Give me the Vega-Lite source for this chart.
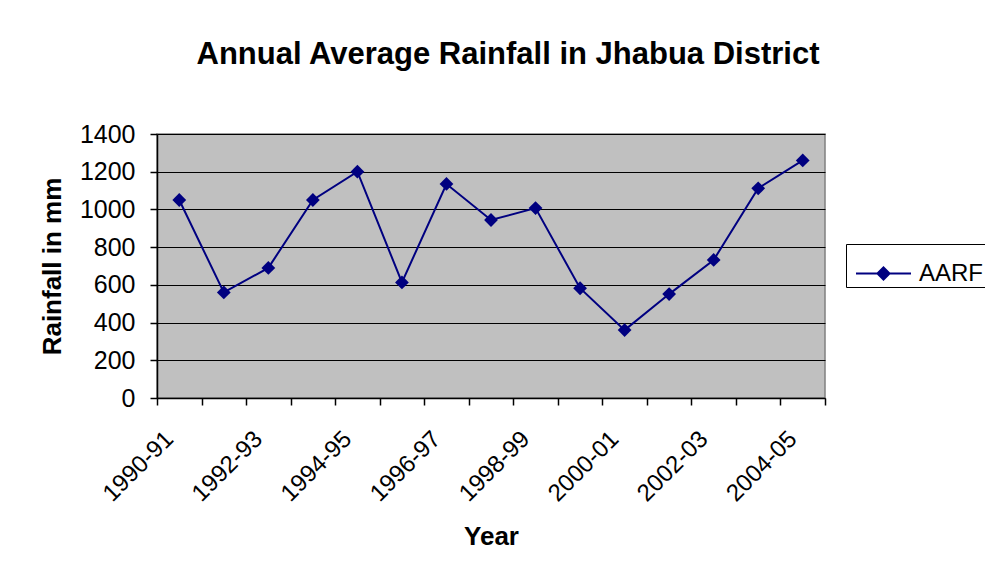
{
  "$schema": "https://vega.github.io/schema/vega-lite/v6.json",
  "autosize": {"type": "none"},
  "padding": {"left": 157, "top": 134, "right": 160, "bottom": 178},
  "width": 668,
  "height": 264,
  "background": "white",
  "title": {
    "text": "Annual Average Rainfall in Jhabua District",
    "font": "Liberation Sans",
    "fontSize": 31,
    "fontWeight": "bold",
    "color": "#000000",
    "anchor": "middle",
    "frame": "group",
    "baseline": "alphabetic",
    "dx": 17,
    "offset": 27
  },
  "data": {
    "values": [
      {"year": "1990-91", "aarf": 1050},
      {"year": "1991-92", "aarf": 560},
      {"year": "1992-93", "aarf": 690},
      {"year": "1993-94", "aarf": 1050},
      {"year": "1994-95", "aarf": 1200},
      {"year": "1995-96", "aarf": 613},
      {"year": "1996-97", "aarf": 1135},
      {"year": "1997-98", "aarf": 944},
      {"year": "1998-99", "aarf": 1007},
      {"year": "1999-00", "aarf": 582},
      {"year": "2000-01", "aarf": 360},
      {"year": "2001-02", "aarf": 551},
      {"year": "2002-03", "aarf": 732},
      {"year": "2003-04", "aarf": 1112},
      {"year": "2004-05", "aarf": 1260}
    ]
  },
  "encoding": {
    "x": {
      "field": "year",
      "type": "ordinal",
      "sort": null,
      "scale": {"type": "band", "paddingInner": 0, "paddingOuter": 0},
      "axis": {
        "title": "Year",
        "tickBand": "extent",
        "labelAngle": -45,
        "labelAlign": "right",
        "labelBaseline": "middle",
        "labelExpr": "(datum.value == '1990-91' || datum.value == '1992-93' || datum.value == '1994-95' || datum.value == '1996-97' || datum.value == '1998-99' || datum.value == '2000-01' || datum.value == '2002-03' || datum.value == '2004-05') ? datum.label : ''",
        "labelPadding": 30,
        "labelOffset": -10,
        "titlePadding": 18
      }
    },
    "y": {
      "field": "aarf",
      "type": "quantitative",
      "scale": {"domain": [0, 1400], "nice": false},
      "axis": {
        "title": "Rainfall in mm",
        "values": [0, 200, 400, 600, 800, 1000, 1200, 1400],
        "format": "d",
        "grid": true,
        "labelFontSize": 25,
        "labelPadding": 15,
        "titlePadding": 14
      }
    },
    "color": {
      "datum": "AARF",
      "type": "nominal",
      "scale": {"range": ["#000080"]},
      "legend": {
        "title": null,
        "orient": "none",
        "legendX": 689,
        "legendY": 110,
        "strokeColor": "#000000",
        "fillColor": "#FFFFFF",
        "padding": 1,
        "symbolOffset": 8,
        "symbolType": "M-1,0H1M-0.22,0L0,-0.22L0.22,0L0,0.22Z",
        "symbolSize": 3025,
        "symbolStrokeWidth": 2,
        "symbolFillColor": "#000080",
        "symbolStrokeColor": "#000080",
        "labelOffset": 7,
        "labelFont": "Liberation Sans",
        "labelFontSize": 24,
        "labelColor": "#000000"
      }
    }
  },
  "layer": [
    {"mark": {"type": "line", "strokeWidth": 2}},
    {"mark": {"type": "point", "shape": "diamond", "filled": true, "size": 190, "opacity": 1}}
  ],
  "config": {
    "view": {"fill": "#C0C0C0", "stroke": "#808080", "strokeWidth": 1.5},
    "axis": {
      "domainColor": "#000000",
      "domainWidth": 1.5,
      "tickColor": "#000000",
      "tickWidth": 1.5,
      "tickSize": 7,
      "gridColor": "#000000",
      "gridWidth": 1,
      "gridOpacity": 1,
      "labelFont": "Liberation Sans",
      "labelFontSize": 24,
      "labelColor": "#000000",
      "titleFont": "Liberation Sans",
      "titleFontSize": 26,
      "titleFontWeight": "bold",
      "titleColor": "#000000"
    }
  }
}
